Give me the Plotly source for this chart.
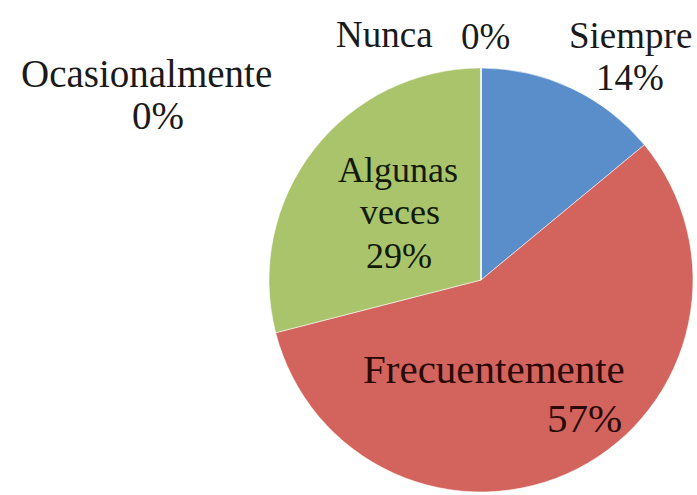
import plotly.graph_objects as go

# Survey answers and their share of responses (%)
categories = ["Siempre", "Frecuentemente", "Algunas veces", "Ocasionalmente", "Nunca"]
values = [14, 57, 29, 0, 0]
colors = ["#5A8ECB", "#D3645D", "#A9C46B", "#7E62A3", "#4BACC6"]

W, H = 697, 495

fig = go.Figure(
    go.Pie(
        labels=categories,
        values=values,
        sort=False,
        direction="clockwise",
        rotation=0,
        marker=dict(colors=colors, line=dict(color="rgba(255,255,255,0.55)", width=1)),
        textinfo="none",
        hoverinfo="label+percent",
        showlegend=False,
        domain=dict(x=[268 / W, 694 / W], y=[1 - 492 / H, 1 - 68 / H]),
    )
)

# Label placement (pixel centres) for each category: name lines, then the percentage
placement = {
    "Siempre": ([("Siempre", 630, 35)], (630, 77), 37, "#1a1a1a"),
    "Frecuentemente": ([("Frecuentemente", 494, 369)], (584, 418), 41, "#2a0a08"),
    "Algunas veces": ([("Algunas", 398, 170), ("veces", 400, 212)], (399, 256), 36, "#121a08"),
    "Ocasionalmente": ([("Ocasionalmente", 146, 73)], (158, 116), 39, "#1a1a1a"),
    "Nunca": ([("Nunca", 384, 34)], (485, 36), 37, "#1a1a1a"),
}

annotations = []
for name, val in zip(categories, values):
    lines, (px, py), size, col = placement[name]
    font = dict(family="Liberation Serif, Times New Roman, serif", size=size, color=col)
    for text, x, y in lines:
        annotations.append(dict(text=text, x=x / W, y=1 - y / H, xref="paper", yref="paper",
                                showarrow=False, xanchor="center", yanchor="middle", font=font))
    annotations.append(dict(text=f"{val}%", x=px / W, y=1 - py / H, xref="paper", yref="paper",
                            showarrow=False, xanchor="center", yanchor="middle", font=font))

fig.update_layout(
    width=W,
    height=H,
    margin=dict(l=0, r=0, t=0, b=0),
    paper_bgcolor="white",
    plot_bgcolor="white",
    annotations=annotations,
)

fig.write_html("out.html")
